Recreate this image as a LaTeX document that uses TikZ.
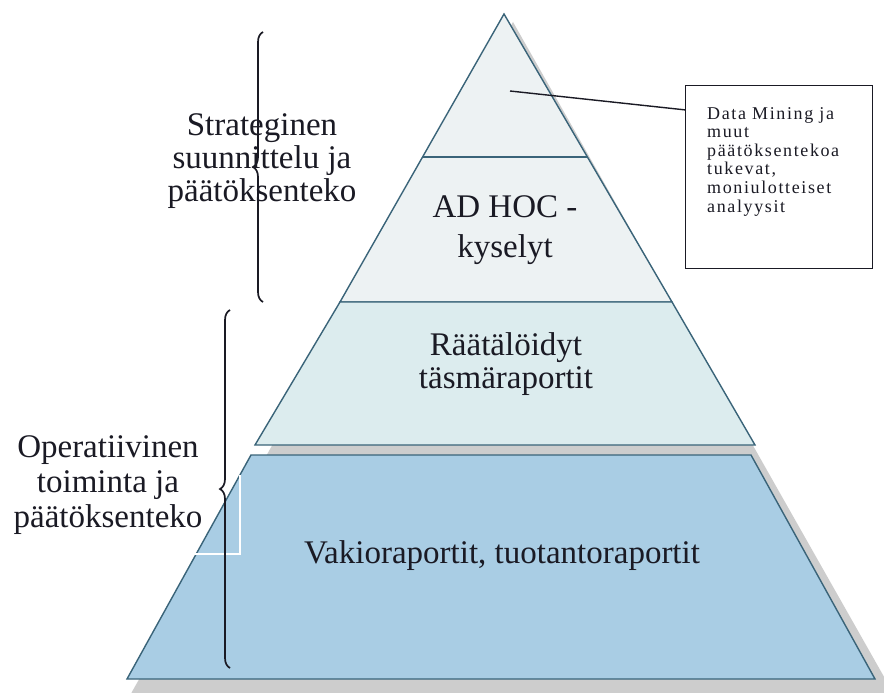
\documentclass[tikz,border=0pt]{standalone}
\usepackage{fontspec}
\setmainfont{Liberation Serif}
\usetikzlibrary{decorations.pathreplacing,calc}
\definecolor{edgecol}{HTML}{3A6479}
\definecolor{topfill}{HTML}{EDF2F3}
\definecolor{midfill}{HTML}{DCECEE}
\definecolor{basefill}{HTML}{A9CDE4}
\definecolor{shadowgray}{HTML}{CDCDCD}
\definecolor{ink}{HTML}{1A1A24}
\begin{document}
\begin{tikzpicture}[x=1pt,y=-1pt,
  layer/.style={draw=edgecol, line width=1.4pt, line join=miter},
  big/.style={font=\fontsize{33}{33}\selectfont, align=center, inner sep=0pt, text=ink},
  bracestyle/.style={decoration={brace,amplitude=10pt}, decorate, line width=1.7pt, draw=ink},
  notebox/.style={draw=ink, line width=1.3pt, minimum width=187pt, minimum height=183pt, inner sep=0pt}]
\useasboundingbox (0,0) rectangle (884,693);
\fill[white] (0,0) rectangle (884,693);
% shadow
\begin{scope}
  \clip (0,0) rectangle (884,693);
  \fill[shadowgray] (513,22) -- (900,705) -- (125,705) -- (133,690) -- cycle;
\end{scope}
% layers
\draw[layer, fill=topfill] (504,14) -- (672,302) -- (340,302) -- cycle;
\draw[layer] (423,157) -- (587,157);
\draw[layer, fill=midfill] (340,302) -- (672,302) -- (755,445) -- (255,445) -- cycle;
\draw[layer, fill=basefill] (251,455) -- (751,455) -- (875,679) -- (127,679) -- cycle;
% white artefact frame
\draw[white, line width=1.2pt] (240,475) -- (240,554) -- (193,554);
% braces
\draw[bracestyle] (263,302) -- (263,32);
\draw[bracestyle] (230,668) -- (230,310);
% labels (anchor=base is the baseline of the last line)
\node[big, anchor=base] (strat) at (262,201) {Strateginen\\suunnittelu ja\\päätöksenteko};
\node[big, anchor=base] (oper) at (108,527) {Operatiivinen\\[2pt]toiminta ja\\[2pt]päätöksenteko};
\node[big, anchor=base] (adhoc) at (505,257) {AD HOC -\\[7pt]kyselyt};
\node[big, anchor=base] (raat) at (506,388) {Räätälöidyt\\täsmäraportit};
\node[big, anchor=base] (vakio) at (502,563) {Vakioraportit, tuotantoraportit};
% note box
\node[notebox, anchor=north west] (note) at (685,85) {};
\node[anchor=base west, inner sep=0pt, align=left, text=ink,
      font=\fontsize{18}{18.6}\selectfont\addfontfeature{LetterSpace=9}] (notetext) at (707,212)
  {Data Mining ja\\muut\\päätöksentekoa\\tukevat,\\moniulotteiset\\analyysit};
\coordinate (leadstart) at (510,91);
\draw[ink, line width=1.4pt] (leadstart) -- ($(note.north west)!0.135!(note.south west)$);
\end{tikzpicture}
\end{document}
